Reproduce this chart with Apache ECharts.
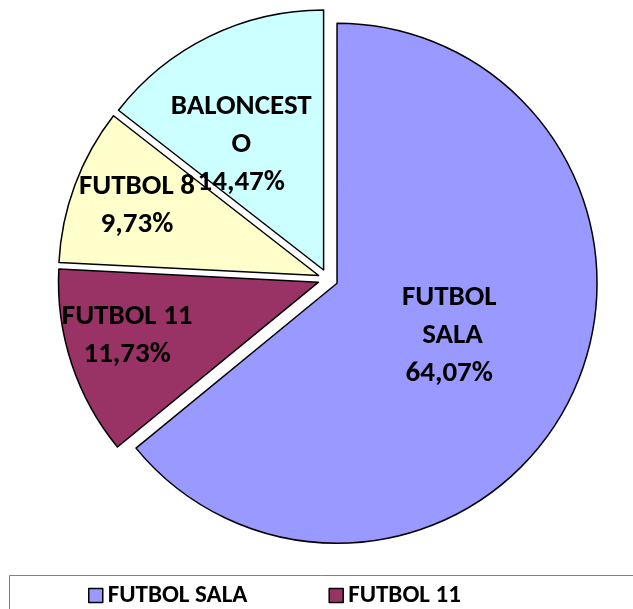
<!DOCTYPE html>
<html>
<head>
<meta charset="utf-8">
<script src="https://cdn.jsdelivr.net/npm/echarts@6/dist/echarts.min.js"></script>
<style>
  html, body { margin: 0; padding: 0; background: #fff; }
  #chart { width: 633px; height: 609px; }
</style>
</head>
<body>
<div id="chart"></div>
<script>
// datos
var categories = ['FUTBOL SALA', 'FUTBOL 11', 'FUTBOL 8', 'BALONCESTO']
var shares = [64.07, 11.73, 9.73, 14.47]
var colors = ['#9999FF', '#993366', '#FFFFCC', '#CCFFFF']
// ajuste de etiquetas (como en la hoja original)
var labelWidths = [100, 200, 200, 150]
var labelNudge = [[-8, -4], [-65, 12], [-57, -23], [-24, -6]]

var FONT = 'Carlito, Lato, sans-serif'

var chartDom = document.getElementById('chart')
var myChart = echarts.init(chartDom)
var option

var pieData = []
for (var i = 0; i < categories.length; i++) {
  pieData.push({
    name: categories[i],
    value: shares[i],
    selected: true,
    itemStyle: { color: colors[i] },
    label: {
      width: labelWidths[i],
      overflow: i === 3 ? 'breakAll' : 'break'
    }
  })
}

option = {
  animation: false,
  graphic: [
    {
      type: 'rect',
      shape: { x: 9.5, y: 575.5, width: 700, height: 100 },
      style: { fill: '#fff', stroke: '#808080', lineWidth: 1 },
      z: 0
    }
  ],
  legend: {
    left: 88,
    top: 583,
    width: 450,
    padding: 0,
    itemGap: 81,
    itemWidth: 14,
    itemHeight: 14,
    icon: 'rect',
    selectedMode: false,
    itemStyle: { borderColor: '#000', borderWidth: 1.5 },
    textStyle: {
      fontFamily: FONT,
      fontWeight: 'bold',
      fontSize: 25,
      color: '#000'
    },
    data: categories
  },
  series: [
    {
      type: 'pie',
      center: [328, 279],
      radius: 260,
      startAngle: 90,
      clockwise: true,
      selectedMode: 'multiple',
      selectedOffset: 10,
      itemStyle: { borderColor: '#000', borderWidth: 1.5 },
      emphasis: { disabled: true },
      label: {
        show: true,
        position: 'inside',
        color: '#000',
        fontFamily: FONT,
        fontWeight: 'bold',
        fontSize: 29,
        lineHeight: 38,
        align: 'center',
        formatter: function (p) {
          return p.name + '\n' + p.value.toFixed(2).replace('.', ',') + '%'
        }
      },
      labelLine: { show: false },
      labelLayout: function (params) {
        var n = labelNudge[params.dataIndex]
        return { dx: n[0], dy: n[1] }
      },
      data: pieData
    }
  ]
}

option && myChart.setOption(option)
</script>
</body>
</html>
